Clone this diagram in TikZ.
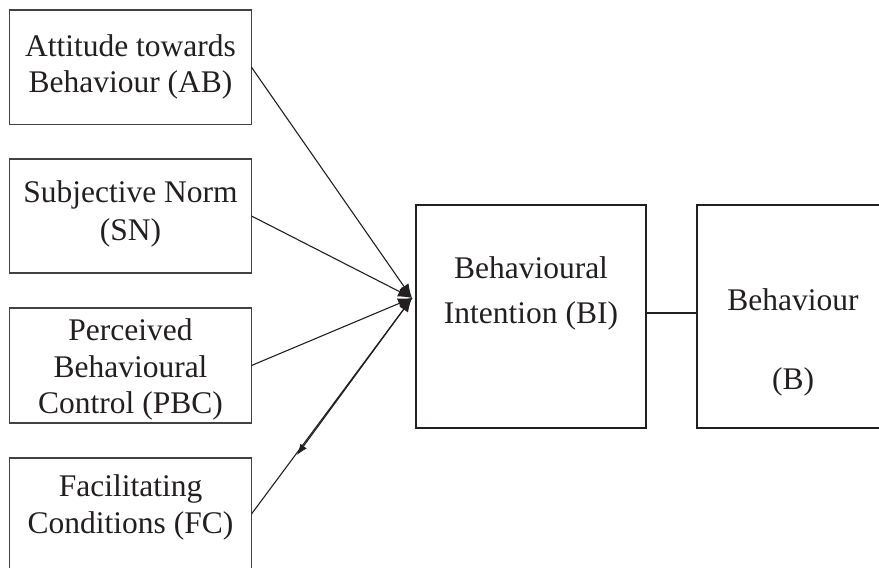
\documentclass[tikz,border=0pt]{standalone}
\usepackage{fontspec}
\setmainfont{Liberation Serif}
\usetikzlibrary{arrows.meta}
\definecolor{ink}{HTML}{231F20}
\begin{document}
\begin{tikzpicture}[x=1pt,y=-1pt,
  factor/.style={draw=ink!85, line width=1.2pt, minimum width=242pt,
    inner sep=0pt, outer sep=0pt, anchor=north west},
  outcome/.style={draw=ink, line width=2.2pt, minimum height=223pt,
    inner sep=0pt, outer sep=0pt, anchor=north west},
  lbl/.style={anchor=base, inner sep=0pt, text=ink,
    font=\fontsize{31.5}{37}\selectfont},
  conn/.style={draw=ink, line width=1.1pt},
  head/.style={-{Latex[length=14pt,width=11pt]}}
]
\useasboundingbox (0,0) rectangle (879,568);
\clip (0,0) rectangle (879,568);

% predictor boxes
\node[factor, minimum height=114.5pt] (ab)  at (9.5,10)  {};
\node[factor, minimum height=114pt]   (sn)  at (9.5,159) {};
\node[factor, minimum height=115pt]   (pbc) at (9.5,308) {};
\node[factor, minimum height=112pt]   (fc)  at (9.5,458) {};

% intention and behaviour boxes
\node[outcome, minimum width=230pt] (bi) at (416,205) {};
\node[outcome, minimum width=192pt] (b)  at (697,205) {};

% box texts
\node[lbl] (ab1)  at (130.5,56)  {Attitude towards};
\node[lbl] (ab2)  at (130.5,92)  {Behaviour (AB)};
\node[lbl] (sn1)  at (130.5,202) {Subjective Norm};
\node[lbl] (sn2)  at (130.5,240) {(SN)};
\node[lbl] (pbc1) at (130.5,340) {Perceived};
\node[lbl] (pbc2) at (130.5,377) {Behavioural};
\node[lbl] (pbc3) at (130.5,413) {Control (PBC)};
\node[lbl] (fc1)  at (130.5,496) {Facilitating};
\node[lbl] (fc2)  at (130.5,533) {Conditions (FC)};
\node[lbl] (bi1)  at (531,278)   {Behavioural};
\node[lbl] (bi2)  at (531,323)   {Intention (BI)};
\node[lbl] (b1)   at (793,310)   {Behaviour};
\node[lbl] (b2)   at (793,389)   {(B)};

% connectors
\coordinate (tip) at (412,298);
\coordinate (fcmid) at (297,455);
\draw[conn, head] (ab.east)  -- (tip);
\draw[conn, head] (sn.east)  -- (tip);
\draw[conn, head] (pbc.east) -- (tip);
\draw[conn, head] (fc.east)  -- (tip);
\draw[conn, -{Latex[length=11pt,width=8pt]}] (tip) -- (fcmid);
\draw[conn, line width=1.6pt] (bi.east |- 0,313) -- (b.west |- 0,313);
\end{tikzpicture}
\end{document}
